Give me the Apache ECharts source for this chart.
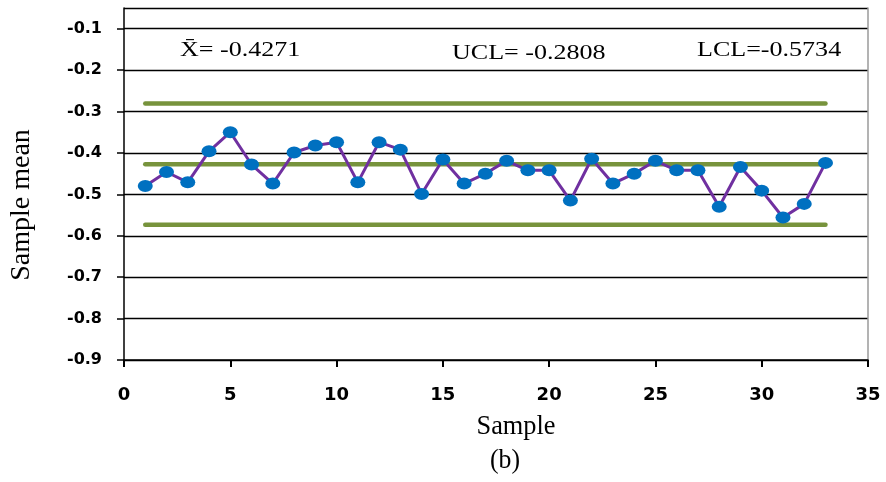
<!DOCTYPE html>
<html><head><meta charset="utf-8">
<script src="https://cdn.jsdelivr.net/npm/echarts@6/dist/echarts.min.js"></script>
<style>html,body{margin:0;padding:0;background:#fff}#c{width:886px;height:482px}</style>
</head><body><div id="c"></div>
<script>
const samples = [1,2,3,4,5,6,7,8,9,10,11,12,13,14,15,16,17,18,19,20,21,22,23,24,25,26,27,28,29,30,31,32,33];
const sampleMeans = [-0.480,-0.446,-0.471,-0.396,-0.350,-0.428,-0.474,-0.399,-0.382,-0.374,-0.471,-0.374,-0.392,-0.499,-0.416,-0.474,-0.450,-0.419,-0.442,-0.442,-0.515,-0.414,-0.474,-0.450,-0.419,-0.442,-0.442,-0.530,-0.434,-0.491,-0.556,-0.523,-0.424];
const CL = -0.4271, UCL = -0.2808, LCL = -0.5734;
const controlX = [1, 33];
const annotations = ['X\u0304= -0.4271', 'UCL= -0.2808', 'LCL=-0.5734'];
const xTitle = 'Sample', yTitle = 'Sample mean', caption = '(b)';

const chart = echarts.init(document.getElementById('c'), null, {renderer:'canvas'});
const serif = '"Liberation Serif","Times New Roman",serif';
const boldFont = '"DejaVu Sans",Verdana,sans-serif';
const ctrl = (v) => ({type:'line', data: controlX.map(x=>[x,v]), symbol:'none', silent:true,
  lineStyle:{color:'#77933C', width:4.5, cap:'round'}, z:2});
const txt = (s, x, y, size, sx, align, extra) => Object.assign({type:'text', x:x, y:y, scaleX:sx,
  style:{text:s, font:size+'px '+serif, fill:'#000', align:align, verticalAlign:'top'}}, extra||{});
chart.setOption({
  animation:false,
  grid:{left:124, right:18, top:8, bottom:122, show:false},
  xAxis:{type:'value', min:0, max:35, interval:5,
    axisLine:{lineStyle:{color:'#000', width:1.5}},
    axisTick:{show:true, length:7, lineStyle:{color:'#000', width:2}},
    axisLabel:{margin:26, fontFamily:boldFont, fontWeight:'bold', fontSize:18, color:'#000'},
    splitLine:{show:false}},
  yAxis:[{type:'value', min:-0.9, max:-0.05, interval:0.1,
    axisLine:{show:true, lineStyle:{color:'#000', width:1.5}},
    axisTick:{show:true, length:7, lineStyle:{color:'#000', width:1.5}},
    axisLabel:{margin:22, showMaxLabel:false, fontFamily:boldFont, fontWeight:'bold', fontSize:16, color:'#000',
      formatter:(v)=> (Math.abs(Math.round(v*10)-v*10)<1e-6 ? String(Math.round(v*10)/10) : '')},
    splitLine:{show:true, lineStyle:{color:'#000', width:1.3}}},
   {type:'value', min:-0.9, max:-0.05, position:'right',
    axisLine:{show:true, lineStyle:{color:'#9a9a9a', width:1.5}},
    axisTick:{show:false}, axisLabel:{show:false}, splitLine:{show:false}}],
  graphic:[
    txt(annotations[0], 180, 40, 21, 1.24, 'left'),
    txt(annotations[1], 452, 43, 21, 1.24, 'left'),
    txt(annotations[2], 697, 40, 21, 1.24, 'left'),
    txt(xTitle, 516, 413, 28, 0.94, 'center'),
    txt(caption, 505, 447, 28, 0.92, 'center'),
    {type:'text', x:8, y:205, rotation:Math.PI/2,
      style:{text:yTitle, font:'28px '+serif, fill:'#000', align:'center', verticalAlign:'top'}}
  ],
  series:[ctrl(UCL), ctrl(CL), ctrl(LCL),
    {type:'line', data: samples.map((s,i)=>[s, sampleMeans[i]]),
     symbol:'circle', symbolSize:[15,12], showAllSymbol:true,
     lineStyle:{color:'#7030A0', width:3},
     itemStyle:{color:'#0070C0'}, z:3}]
});
</script></body></html>
